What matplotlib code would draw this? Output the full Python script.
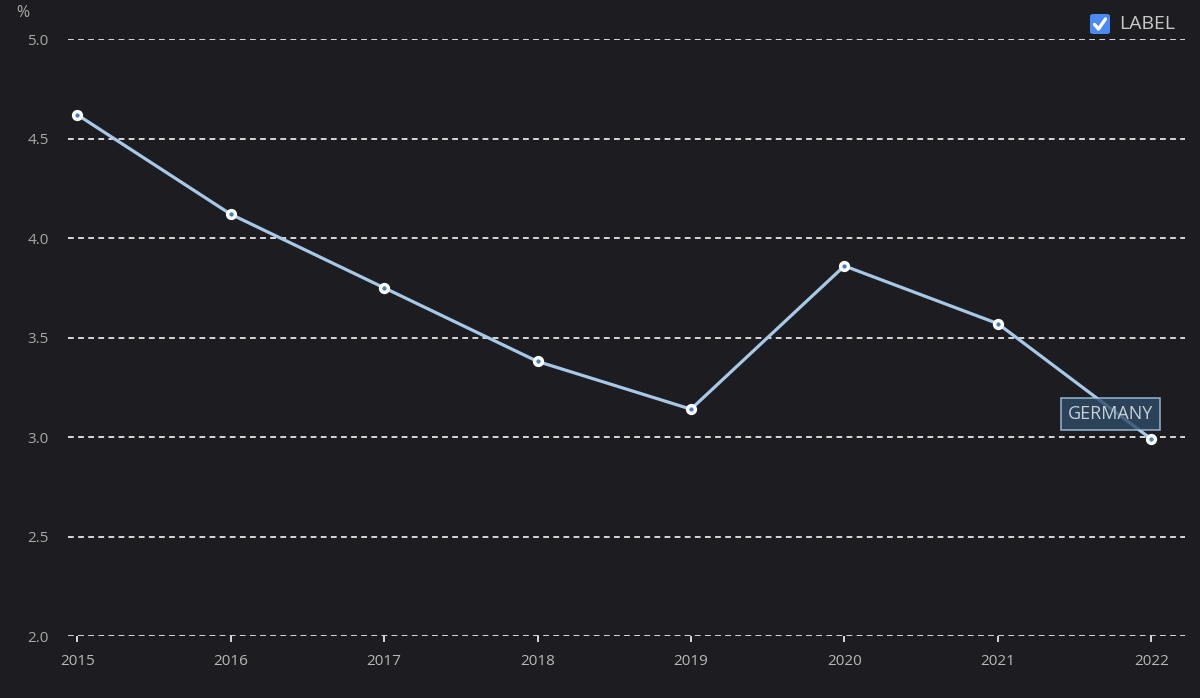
import matplotlib.pyplot as plt
from matplotlib.patches import FancyBboxPatch
from matplotlib.lines import Line2D

years = [2015, 2016, 2017, 2018, 2019, 2020, 2021, 2022]
values = [4.62, 4.12, 3.75, 3.38, 3.14, 3.86, 3.57, 2.99]
y_ticks = [2.0, 2.5, 3.0, 3.5, 4.0, 4.5, 5.0]
series_name = "GERMANY"
legend_text = "LABEL"

bg = "#1d1d21"
line_color = "#a6c9e8"
dot_color = "#3d7fc1"
tick_color = "#b8b8b8"

plt.rcParams["font.family"] = ["Open Sans", "DejaVu Sans"]

fig = plt.figure(figsize=(12, 6.98), dpi=100, facecolor=bg)
ax = fig.add_axes([0.0567, 0.0888, 0.9308, 0.8552], facecolor=bg)

ax.plot(years, values, color=line_color, lw=2.3, zorder=3, solid_capstyle="round")
ax.plot(years, values, ls="none", marker="o", ms=5.6, mfc=dot_color,
        mec="white", mew=2.5, zorder=4)

ax.set_xlim(2014.94, 2022.22)
ax.set_ylim(2.0, 5.0)
ax.set_yticks(y_ticks)
ax.set_yticklabels([f"{v:.1f}" for v in y_ticks])
ax.set_xticks(years)
ax.set_xticklabels([str(y) for y in years])

for v in y_ticks:
    ax.axhline(v, color="#e6e6e6", lw=1.3, ls=(0, (3.2, 2.4)), zorder=1)

for s in ax.spines.values():
    s.set_visible(False)
ax.tick_params(axis="y", length=0, pad=14, labelsize=11, labelcolor="#a8a8a8")
ax.tick_params(axis="x", length=4, width=1.3, color="#e6e6e6", pad=9,
               labelsize=11, labelcolor=tick_color, direction="out")

ax.annotate(series_name, xy=(years[-1], values[-1]), xytext=(-29.5, 18),
            textcoords="offset points", ha="center", va="center",
            fontsize=13, color="#c8d0d8", zorder=5,
            bbox=dict(boxstyle="square,pad=0.38", fc="#2f4c66", ec="#a6c9e8",
                      lw=1.2, alpha=0.8))

fig.text(23 / 1200, 1 - 13 / 698, "%", color="#a8a8a8", fontsize=11.5,
         ha="center", va="center")

# checkbox legend
W, H = 1200, 698
box = FancyBboxPatch((1090 / W, 1 - 34 / H), 20 / W, 20 / H,
                     boxstyle="round,pad=0,rounding_size=0.003",
                     transform=fig.transFigure, fc="#4a8af4", ec="none")
fig.patches.append(box)
fig.lines.append(Line2D([1094.5 / W, 1098.5 / W, 1105.5 / W],
                        [1 - 24.5 / H, 1 - 29 / H, 1 - 19 / H],
                        transform=fig.transFigure, color="white", lw=2.4,
                        solid_capstyle="round", solid_joinstyle="round"))
fig.text(1119 / W, 1 - 24 / H, legend_text, color="#c8c8c8", fontsize=14,
         ha="left", va="center")

fig.savefig("out.png", dpi=100, facecolor=bg)
